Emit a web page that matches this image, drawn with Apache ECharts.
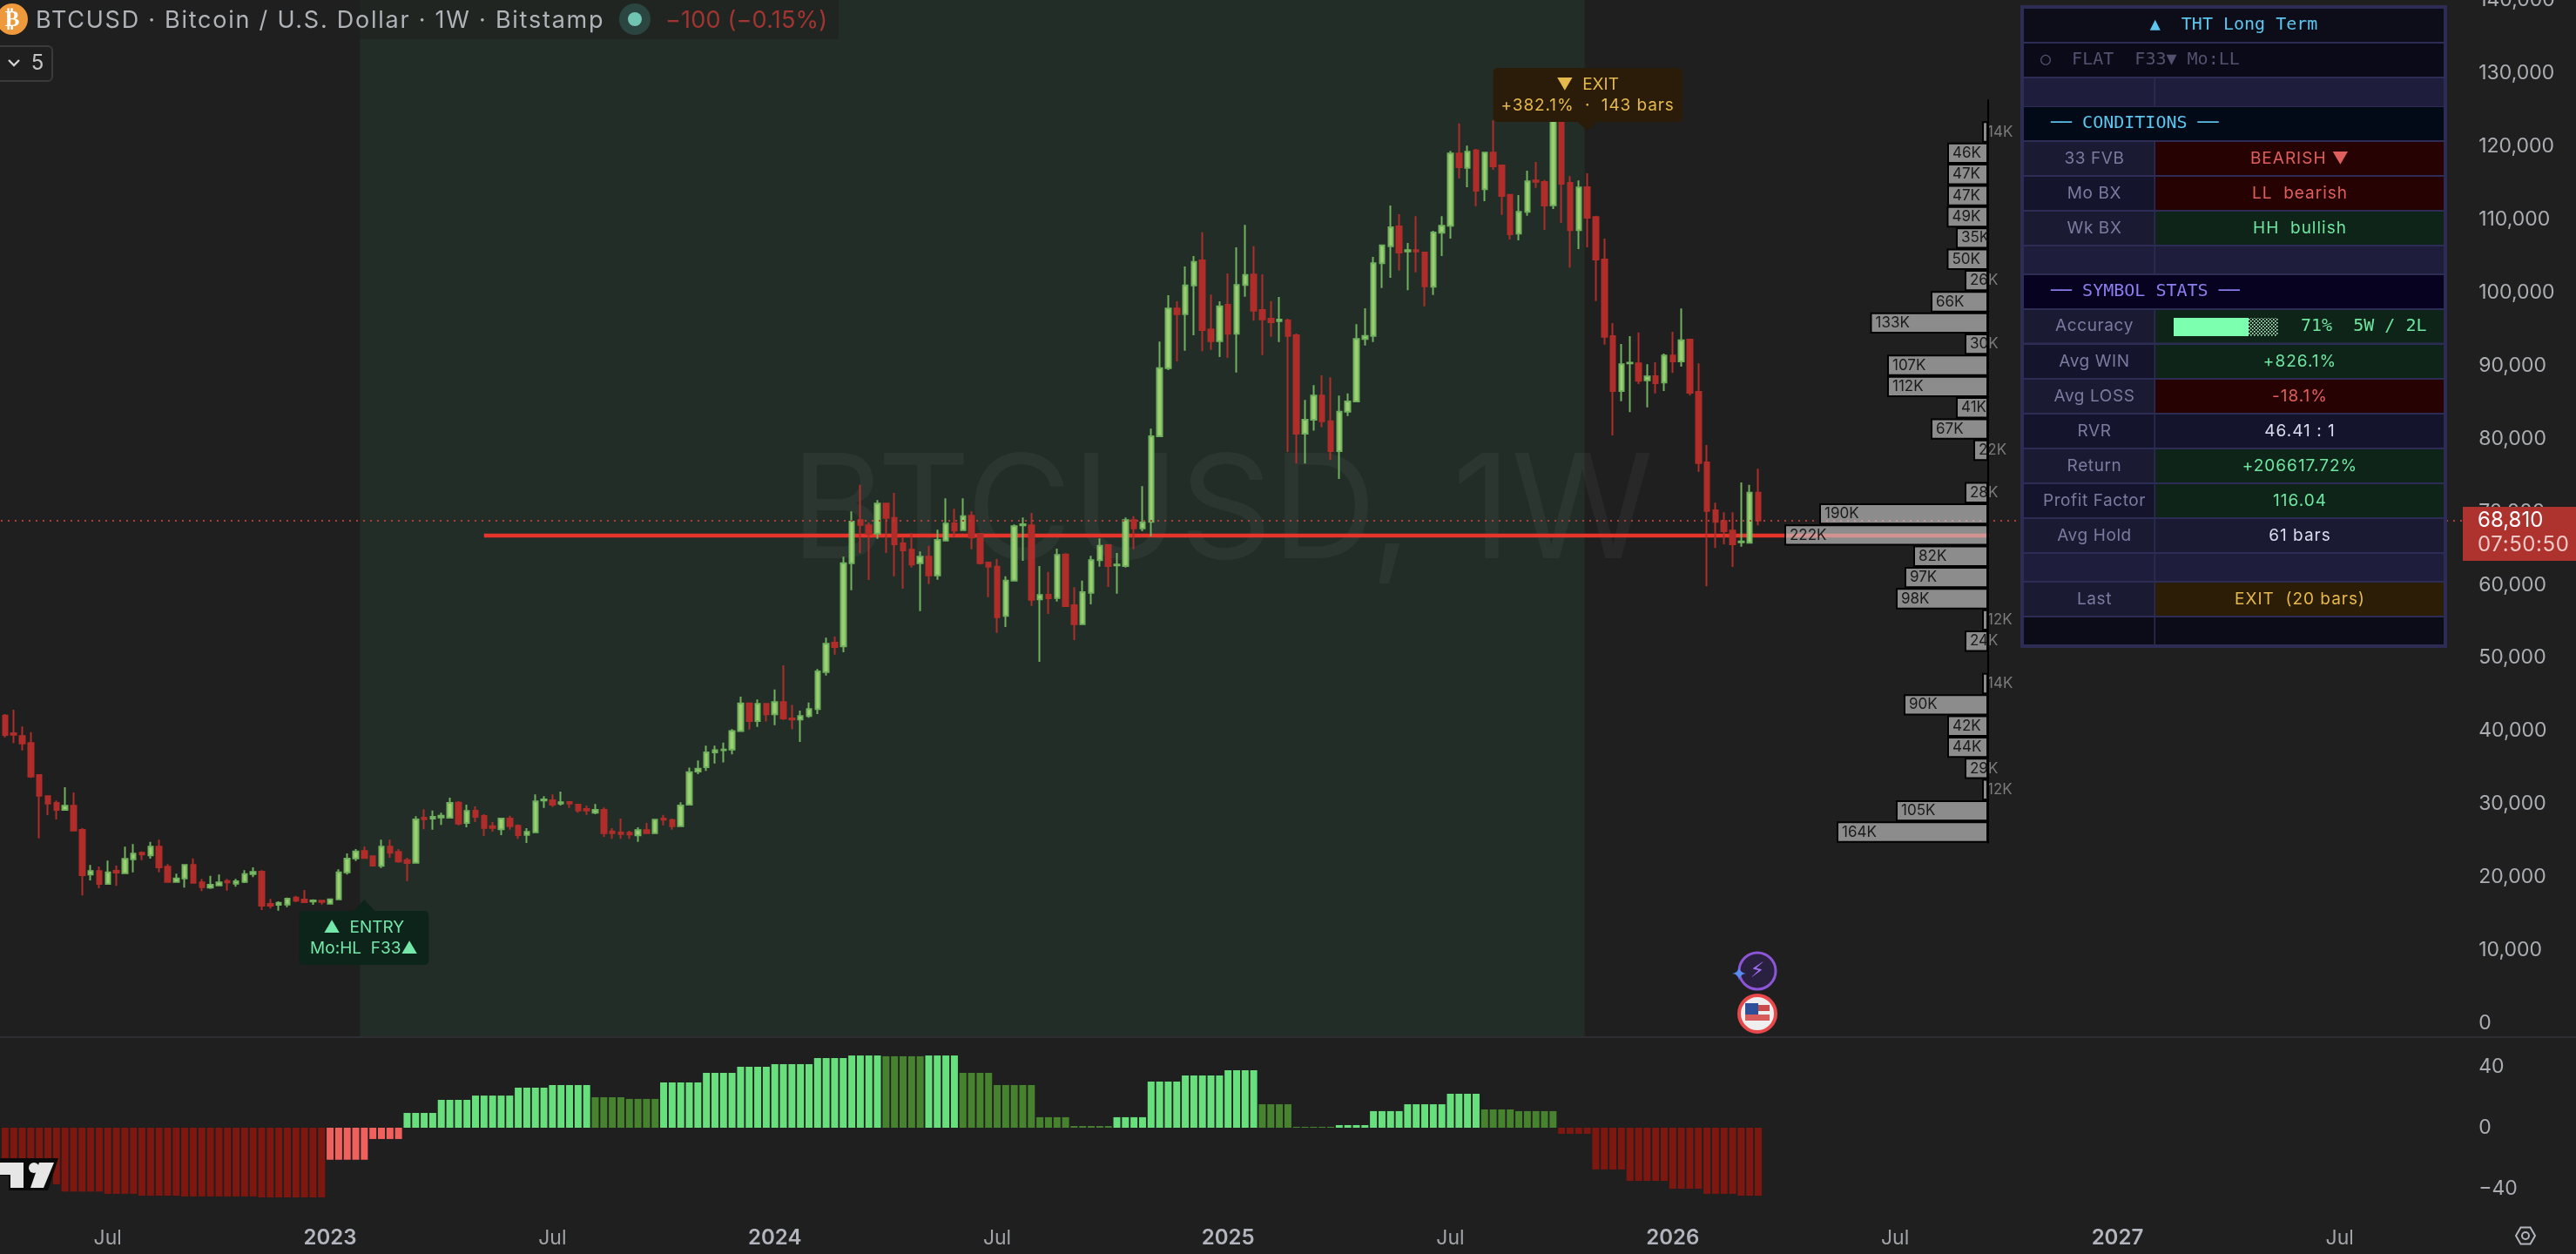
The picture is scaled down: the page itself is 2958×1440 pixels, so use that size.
<!DOCTYPE html>
<html><head><meta charset="utf-8">
<style>html,body{margin:0;padding:0;background:#1f1f1f}#c{width:2958px;height:1440px}</style>
<script src="https://cdn.jsdelivr.net/npm/echarts@6/dist/echarts.min.js"></script>
</head><body><div id="c"></div>
<script>
// letter spacing for canvas text: a font string may carry a marker family "lsN"
(function () {
  const proto = CanvasRenderingContext2D.prototype;
  const d = Object.getOwnPropertyDescriptor(proto, 'font');
  Object.defineProperty(proto, 'font', {
    configurable: true, get() { return d.get.call(this); },
    set(v) { d.set.call(this, v); const m = /"ls([\d.]+)"/.exec(v); this.letterSpacing = m ? m[1] + 'px' : '0px'; }
  });
})();
// ---------- DATA ----------
const weekCount = 288;
const firstWeekUTC = Date.UTC(2022, 3, 11);
const tickIndexes = [12, 38, 64, 90, 116, 143, 169, 195, 221, 247, 273];
const tickLabels = ['Jul', '2023', 'Jul', '2024', 'Jul', '2025', 'Jul', '2026', 'Jul', '2027', 'Jul'];
const priceTicksMax = 140000;
const lastPrice = 68810;
const refLinePrice = 66746;
const refLineFrom = 56, refLineTo = 232;
const tradeFrom = 42, tradeTo = 185;

const open = [42113,39690,39293,38339,33968,31069,30155,29201,29758,26460,20342,20818,19070,20858,20540,22447,23320,22963,24155,21414,
19348,19825,21652,19269,18553,18871,19468,19110,19348,20420,20738,16328,16209,16249,17202,16924,16646,16765,16368,16964,
20659,22567,23560,22845,21533,24155,23440,22328,21970,28129,28009,28168,28129,30195,27413,29082,28367,26976,26539,28009,
27016,25785,26142,30473,30512,30075,30274,29917,29321,28804,29201,26261,26102,26062,25705,26420,26023,28009,27810,26976,
29917,34445,35050,37060,37360,37450,39980,43780,41370,43700,42270,43950,41730,41580,42030,43000,48074,52083,51569,62972,
68852,68137,67024,71117,69170,65674,64800,62972,63846,61303,66071,68415,67500,69448,66945,63051,62495,55741,60588,68137,
68137,58006,58642,58205,64163,57210,54628,58920,63369,65435,62654,62574,68852,67739,68614,80334,89670,97814,97059,100993,
104410,94954,93365,98332,94358,101033,102463,97615,96423,96106,96185,94160,80700,82600,85900,82400,78300,83700,85100,93643,
94080,104012,106357,109058,105641,105800,105482,100794,108184,109138,119031,117084,119468,114144,119149,117401,113389,108065,111045,115335,
115137,111959,123500,115018,108542,114422,110330,104529,94040,86531,90306,90306,88000,88557,87683,91378,90583,93563,86412,76758,
70202,68733,67421,65833,65753,72626];
const high = [42312,42908,40604,39849,34049,31069,30473,32300,31585,26698,21652,21453,22248,21573,24155,24513,23520,24830,25109,21772,
20460,21772,22566,19746,20182,20341,19746,19746,20937,21334,20937,17004,16686,17202,17441,18235,16964,16884,16964,21056,
23242,23838,24155,22845,25109,25109,23838,22646,28327,29281,29122,28804,30870,30393,29917,29678,28606,27532,28128,28407,
27214,26698,31307,31069,31307,31704,30274,29996,29798,29996,29520,26698,28009,26341,26818,27413,27850,28526,28009,30234,
34995,35980,38000,37980,38400,40250,44700,43900,44300,43800,45689,49000,43570,42800,43880,48470,52762,52921,63846,70044,
73699,68534,71594,71117,72587,66548,67064,64561,65356,67540,71832,70401,71832,70044,67103,63051,63568,61184,68256,69209,
69845,62574,61780,64958,64322,59675,60588,63965,66350,65435,64362,69209,69408,73500,81367,93285,99642,98808,103576,105006,
108263,99722,98808,102622,106197,109257,106356,102503,98848,99404,96423,94400,85300,87325,88676,88398,85900,86214,95669,97855,
104886,106595,111919,110727,106793,110449,105482,108462,110449,119388,123162,120103,119666,119149,123559,117481,113508,113349,116686,117878,
115415,125500,126000,115931,115335,116329,110529,107389,95829,92968,94040,94557,90186,90464,91656,94636,97814,93563,90305,79141,
71236,69924,69924,74016,73698,75884];
const low = [39134,38339,37346,33572,25307,28486,27890,29122,26380,17480,19547,18473,18950,18790,20540,20659,22327,22526,20659,19269,
19269,18553,19230,18076,18394,18791,18156,18670,19190,19984,15494,15693,15415,15891,16567,16487,16209,16249,16288,16884,
20341,22208,22606,21500,21255,22646,21970,19468,21851,26539,26500,27135,28009,27095,26818,27532,25625,26221,25745,26500,
25228,24671,26102,29479,29599,29798,29479,28804,28526,28605,25506,25228,25228,25228,24830,26023,25943,27095,26500,26897,
29917,34100,34550,35550,35700,36800,39950,40200,40550,41300,40800,41500,40250,38500,41800,42300,47596,50457,50774,59277,
64362,60667,66309,64362,61184,59475,62375,56416,60111,60707,65952,66548,67421,64879,62773,58324,53437,54231,60588,63290,
57131,49464,56019,57727,57091,52443,54500,57330,62495,59713,58800,62375,64879,67342,66627,80254,89392,90584,92053,94160,
91974,92172,91179,91060,89074,99444,96145,91457,93961,93246,78200,76600,76600,81100,81600,77100,74500,83100,85000,92769,
93246,100635,102026,103019,100317,102781,98132,99682,105006,107389,115614,114422,111839,112515,116805,110647,107270,107151,110528,114343,
108582,111442,109535,103416,105959,106197,98847,92888,80452,85141,83630,87485,84306,86213,86531,88994,89868,85935,75486,59793,
65037,65553,62455,65236,65753,68137];
const close = [39451,39491,38300,33770,31147,30075,29201,29758,26380,20262,20818,19070,20659,20620,22487,23202,23082,24155,21334,19348,
19825,21652,19230,18632,18950,19269,19269,19428,20420,20698,16090,16090,16487,17044,16765,16567,16805,16606,16964,20659,
22527,23520,22606,21573,24155,23320,22130,21930,27890,27930,28248,28407,30155,27334,29042,28248,26738,26738,28009,26976,
25745,26182,30353,30631,29917,30234,30075,29122,29122,29201,26023,26023,25904,25824,26420,26023,27850,27850,26976,29798,
34366,34843,37060,37360,37450,39980,43780,41350,43700,42270,43950,41730,41580,42030,43000,48153,51926,51490,62972,68653,
68216,66945,71117,69170,65554,64720,62773,63846,61303,66150,68375,67421,69408,66468,62972,62495,55582,60588,68018,68296,
57966,58602,58165,64084,57091,54628,59000,63369,65356,62574,62773,68852,67739,68534,80334,89670,97814,97059,100993,104211,
94875,93365,98133,94358,101033,102424,97536,96344,95947,96304,94080,80700,82600,85900,82400,78300,83700,85100,93643,94080,
104012,106476,108939,105482,105800,105641,100873,108224,109138,119031,117163,119269,113945,119149,117282,113230,107985,111045,115216,115176,
111919,123500,114898,108542,114382,110250,104529,93961,86531,90186,90400,87922,88518,87604,91378,90583,93484,86292,76678,70123,
68614,67342,65554,65952,72626,68810];

const histValues = [-31.4,-31.4,-34.3,-34.3,-34.3,-34.3,-37.1,-41.9,-41.9,-41.9,-41.9,-41.9,-43.4,-43.4,-43.4,-43.4,-44.6,-44.6,-44.6,-44.6,
-44.6,-45.1,-45.1,-45.1,-45.1,-45.1,-45.1,-45.1,-45.1,-45.1,-45.7,-45.7,-45.7,-45.7,-45.7,-45.7,-45.7,-45.7,-21,-21,
-21,-21,-21,-7.4,-7.4,-7.4,-7.4,9.7,9.7,9.7,9.7,18.3,18.3,18.3,18.3,21.1,21.1,21.1,21.1,21.1,
26.3,26.3,26.3,26.3,28,28,28,28,28,20,20,20,20,18.9,18.9,18.9,18.9,29.7,29.7,29.7,
29.7,29.7,36,36,36,36,40,40,40,40,41.7,41.7,41.7,41.7,41.7,45.7,45.7,45.7,45.7,47.4,
47.4,47.4,47.4,46.9,46.9,46.9,46.9,46.9,47.4,47.4,47.4,47.4,36,36,36,36,28,28,28,28,
28,6.9,6.9,6.9,6.9,1.1,1.1,1.1,1.1,1.1,6.9,6.9,6.9,6.9,30.3,30.3,30.3,30.3,34.3,34.3,
34.3,34.3,34.3,37.7,37.7,37.7,37.7,15.4,15.4,15.4,15.4,0.6,0.6,0.6,0.6,0.6,1.7,1.7,1.7,1.7,
10.9,10.9,10.9,10.9,15.4,15.4,15.4,15.4,15.4,22.3,22.3,22.3,22.3,12,12,12,12,10.9,10.9,10.9,
10.9,10.9,-4,-4,-4,-4,-27.4,-27.4,-27.4,-27.4,-34.9,-34.9,-34.9,-34.9,-34.9,-40,-40,-40,-40,-43.4,
-43.4,-43.4,-43.4,-44.6,-44.6,-44.6];

const profileK = [0,14,46,47,47,49,35,50,26,66,133,30,107,112,41,67,22,0,28,190,222,82,97,98,12,24,0,14,90,42,44,29,12,105,164];
const profileLen = [0,7,47,47,47,47.5,37,47.5,27,66,135.5,27,116,116,37,66,17,0,27,194,234,86,96,106,7,27,0,7,97,47,47,27,7,106,174];

const panelTitle = '▲  THT Long Term';
const panelStatus = '○  FLAT  F33▼ Mo:LL';
const conditionsHead = '── CONDITIONS ──';
const statsHead = '── SYMBOL STATS ──';
const conditionRows = [['33 FVB','BEARISH ▼','bad'],['Mo BX','LL  bearish','bad'],['Wk BX','HH  bullish','good']];
const statRows = [['Avg WIN','+826.1%','good'],['Avg LOSS','-18.1%','bad'],['RVR','46.41 : 1','plain'],['Return','+206617.72%','good'],['Profit Factor','116.04','good'],['Avg Hold','61 bars','plain']];
const accuracyText = '71%  5W / 2L';
const accuracyLabel = 'Accuracy';
const lastRow = ['Last','EXIT  (20 bars)','warn'];
const headerTitle = 'BTCUSD · Bitcoin / U.S. Dollar · 1W · Bitstamp';
const headerChange = '−100 (−0.15%)';
const countdown = '07:50:50';

// ---------- BUILD ----------
const DAY = 86400000;
const categories = Array.from({length: weekCount}, (_, i) => new Date(firstWeekUTC + i * 7 * DAY).toISOString().slice(0, 10));
const candleData = open.map((o, i) => [o, close[i], low[i], high[i]]);
const C = {bg:'#1f1f1f', up:'#9dd070', upB:'#70b25e', dn:'#b02d2a', dnB:'#b02d2a', axis:'#acaeb4'};
const histColors = {upS:'#67df7d', upW:'#47832f', dnS:'#7d1710', dnW:'#f0605d'};
const histData = (() => {
  let key = 'dnS', prev = histValues[0];
  return histValues.map(v => {
    if (v !== prev) key = v >= 0 ? (v > prev ? 'upS' : 'upW') : (v < prev ? 'dnS' : 'dnW');
    prev = v;
    return {value: v, itemStyle: {color: histColors[key]}};
  });
})();
const sparse = (a, b, v) => categories.map((_, i) => (i === a || i === b) ? v : null);

const paneBottomPrice = -1788;
const F = (size, ls, weight) => `${weight || 400} ${size}px Inter, "ls${ls || 0}", sans-serif`;
const mono = '"DejaVu Sans Mono", monospace';

function txt(text, x, y, fill, font, align, z) {
  return {type:'text', silent:true, z:z||60, style:{text, x, y, fill, font, textAlign:align||'left', textVerticalAlign:'middle'}};
}
function rect(x, y, w, h, fill, z, r, extra) {
  return {type:'rect', silent:true, z:z||50, shape:{x, y, width:w, height:h, r:r||0}, style:Object.assign({fill}, extra||{})};
}
function poly(points, fill, z) { return {type:'polygon', silent:true, z:z||60, shape:{points}, style:{fill}}; }

const els = [];
// watermark
els.push(txt('BTCUSD, 1W', 908, 591, 'rgba(255,255,255,0.045)', F(166), 'left', 1));
// pane separator
els.push(rect(0, 1190, 2958, 2, '#2e2e32', 2));
// header
els.push(rect(0, 0, 963, 45, 'rgba(31,31,31,0.55)', 1));
els.push({type:'circle', silent:true, z:60, shape:{cx:14, cy:22, r:18}, style:{fill:'#ee9a3c'}});
els.push(txt('₿', 14, 23, '#fff', '700 25px "DejaVu Sans"', 'center'));
els.push(txt(headerTitle, 41, 24, '#b0b3b8', F(27, 1.75)));
els.push({type:'circle', silent:true, z:60, shape:{cx:729, cy:22, r:18}, style:{fill:'#2b4640'}});
els.push({type:'circle', silent:true, z:61, shape:{cx:729, cy:22, r:8}, style:{fill:'#70c4b2'}});
els.push(txt(headerChange, 764, 24, '#a33431', F(27, 0.2)));
// collapse pill
els.push({type:'rect', silent:true, z:60, shape:{x:-6, y:53, width:66, height:40, r:5}, style:{fill:'none', stroke:'#3a3a3c', lineWidth:2}});
els.push({type:'polyline', silent:true, z:60, shape:{points:[[10,69],[16,75],[22,69]]}, style:{fill:'none', stroke:'#d0d0d0', lineWidth:2.4}});
els.push(txt('5', 43, 73, '#c4c4c6', F(24), 'center'));
// logo
els.push(poly([[0,1330],[67,1330],[55,1367],[10,1367],[10,1350],[0,1350]], '#0a0a0a', 40));
els.push(poly([[0,1335],[27,1335],[27,1364],[12,1364],[12,1349],[0,1349]], '#e6e6e6', 41));
els.push({type:'circle', silent:true, z:41, shape:{cx:39, cy:1341, r:6}, style:{fill:'#e6e6e6'}});
els.push(poly([[45,1335],[62,1335],[50,1364],[35,1364]], '#e6e6e6', 41));
// events icons
els.push({type:'circle', silent:true, z:60, shape:{cx:2018, cy:1115, r:21}, style:{fill:'#2a2040', stroke:'#8d55d8', lineWidth:3}});
els.push(txt('⚡', 2018, 1116, '#a06ef0', '700 24px "DejaVu Sans"', 'center'));
els.push(txt('✦', 1997, 1120, '#5a8cf0', '700 22px "DejaVu Sans"', 'center', 61));
els.push({type:'circle', silent:true, z:60, shape:{cx:2018, cy:1164, r:21}, style:{fill:'#eee', stroke:'#e8484a', lineWidth:4}});
els.push(rect(2004, 1154, 28, 7, '#c84a4a', 61));
els.push(rect(2004, 1165, 28, 7, '#d85c5c', 61));
els.push(rect(2004, 1152, 15, 13, '#2f4f9a', 62));
// gear
els.push({type:'polygon', silent:true, z:60, shape:{points:[[2911,1419],[2905.5,1428.5],[2894.5,1428.5],[2889,1419],[2894.5,1409.5],[2905.5,1409.5]]}, style:{fill:'none', stroke:'#b2b5be', lineWidth:2}});
els.push({type:'circle', silent:true, z:60, shape:{cx:2900, cy:1419, r:4}, style:{fill:'none', stroke:'#b2b5be', lineWidth:2}});
// price tag
els.push(rect(2828, 582, 130, 62, '#ae322d', 70));
els.push(txt(lastPrice.toLocaleString('en-US'), 2845, 598, '#ffffff', F(24), 'left', 71));
els.push(txt(countdown, 2845, 626, '#ecc9c6', F(24, 0.6), 'left', 71));

// panel
const P = {l:2324, m:2474, r:2806, sep:'#2c2c54'};
const Z = {bad:['#260202','#df5f5c'], good:['#0f2419','#6fe6a0'], plain:['', '#dcdcf0'], warn:['#2b1d06','#e6b94c']};
const labelC = '#7b7ba0', alt = ['#1a1a33', '#14142c'], blankC = '#1e1e3c';
els.push(rect(2320, 6, 490, 738, P.sep, 80));
function fullRow(t, b, fill) { els.push(rect(P.l, t, P.r - P.l, b - t, fill, 81)); }
function blankRow(t, b, fill) {
  els.push(rect(P.l, t, P.m - P.l - 0.5, b - t, fill, 81));
  els.push(rect(P.m + 1, t, P.r - P.m - 1, b - t, fill, 81));
}
function dataRow(t, b, row, altIdx) {
  const leftFill = alt[altIdx % 2];
  const z = Z[row[2]];
  els.push(rect(P.l, t, P.m - P.l - 0.5, b - t, leftFill, 81));
  els.push(rect(P.m + 1, t, P.r - P.m - 1, b - t, z[0] || leftFill, 81));
  const cy = (t + b) / 2;
  els.push(txt(row[0], 2405, cy, labelC, F(19, 0.6), 'center', 82));
  els.push(txt(row[1], 2641, cy, z[1], F(19, 1), 'center', 82));
}
fullRow(10, 48, '#0d0d1a');
els.push(txt(panelTitle, 2565, 29, '#5cc6ee', '400 20px '+mono, 'center', 82));
fullRow(50, 88, '#0a0a18');
els.push(txt(panelStatus, 2343, 69, '#52526f', '400 20px '+mono, 'left', 82));
blankRow(90, 122, blankC);
fullRow(123, 161, '#020a18');
els.push(txt(conditionsHead, 2355, 142, '#5cc6ee', '400 20px '+mono, 'left', 82));
const condT = [163, 203, 243];
conditionRows.forEach((r, i) => dataRow(condT[i], condT[i] + 38, r, i));
blankRow(283, 314, blankC);
fullRow(316, 354, '#07021f');
els.push(txt(statsHead, 2355, 335, '#8b7ff0', '400 20px '+mono, 'left', 82));
// accuracy
dataRow(356, 393.5, [accuracyLabel, '', 'good'], 0);
els.push(rect(2496, 365, 86, 21, '#7dffb0', 83));
const dotCanvas = document.createElement('canvas');
dotCanvas.width = 4; dotCanvas.height = 4;
(function () { const g = dotCanvas.getContext('2d'); g.fillStyle = '#b8f0c8'; g.fillRect(0, 0, 1.6, 1.6); g.fillRect(2, 2, 1.6, 1.6); })();
els.push(rect(2582, 365, 34, 21, {image: dotCanvas, repeat: 'repeat'}, 83));
els.push(txt(accuracyText, 2642, 375, '#6fe6a0', '400 20px '+mono, 'left', 83));
const statT = [396, 436, 476, 516, 556, 596];
statRows.forEach((r, i) => dataRow(statT[i], statT[i] + 38, r, i + 1));
blankRow(636, 667, blankC);
dataRow(669, 707, lastRow, 0);
blankRow(709, 740, '#0c0c18');

// ---------- OPTION ----------
const GRID_W = weekCount * 9.82;
const signals = [
  {index: tradeFrom, price: 16925, dir: 'up', fill: '#0c2419', color: '#74e8a8', lines: ['▲  ENTRY', 'Mo:HL  F33▲'], ls: 0},
  {index: tradeTo, price: 122169, dir: 'down', fill: '#2a1c08', color: '#e6b94c', lines: ['▼  EXIT', '+382.1%  ·  143 bars'], ls: 0.9}
];

const option = {
  backgroundColor: C.bg,
  animation: false,
  tooltip: {show: false},
  grid: [
    {left: 1, top: 0.4, width: GRID_W, height: 1258.5, outerBoundsMode: 'none'},
    {left: 1, top: 1155, width: GRID_W, height: 280, outerBoundsMode: 'none'},
    {left: 1983, top: 115, width: 300, height: 852.7, outerBoundsMode: 'none'}
  ],
  xAxis: [
    {type:'category', gridIndex:0, data:categories, show:false},
    {type:'category', gridIndex:1, data:categories, axisLine:{show:false}, axisTick:{show:false},
      axisLabel:{inside:true, margin:1, hideOverlap:false, interval:(i) => tickIndexes.includes(i),
        formatter:(v, i) => { const k = tickIndexes.indexOf(i); if (k < 0) return ''; const s = tickLabels[k]; return s === 'Jul' ? '{m|'+s+'}' : '{y|'+s+'}'; },
        rich:{m:{color:'#a2a3a8', fontFamily:'Inter', fontSize:23, fontWeight:400}, y:{color:'#b2b5be', fontFamily:'Inter', fontSize:24, fontWeight:600}}}},
    {type:'value', gridIndex:2, inverse:true, min:0, max:300, show:false}
  ],
  yAxis: [
    {type:'value', gridIndex:0, position:'right', min:-10000, max:priceTicksMax, interval:10000, splitLine:{show:false}, axisLine:{show:false}, axisTick:{show:false},
      axisLabel:{margin:17, color:C.axis, fontFamily:'Inter', fontSize:23, formatter:v => v < 0 ? '' : v.toLocaleString('en-US')}},
    {type:'value', gridIndex:1, position:'right', min:-80, max:80, interval:40, splitLine:{show:false}, axisLine:{show:false}, axisTick:{show:false},
      axisLabel:{margin:17, color:C.axis, fontFamily:'Inter', fontSize:23, formatter:v => Math.abs(v) > 40 ? '' : (v < 0 ? '−' + (-v) : '' + v)}},
    {type:'category', gridIndex:2, inverse:true, data:profileK.map((_, i) => 'r' + i), axisTick:{show:false}, axisLabel:{show:false}, axisLine:{show:true, lineStyle:{color:'#000', width:2}}, z:20}
  ],
  graphic: {elements: els},
  series: [
    {type:'custom', xAxisIndex:0, yAxisIndex:0, z:0, silent:true, clip:false, encode:{x:0, y:-1},
      data:[[tradeFrom, tradeTo]],
      renderItem:(params, api) => {
        const band = api.size([1, 0])[0];
        const x0 = api.coord([api.value(0), 0])[0] - band / 2;
        const x1 = api.coord([api.value(1), 0])[0] - band / 2 + 2;
        const yb = api.coord([api.value(0), paneBottomPrice])[1];
        return {type:'rect', shape:{x:x0, y:0, width:x1 - x0, height:yb}, style:{fill:'#232d27'}};
      }},
    {type:'line', xAxisIndex:0, yAxisIndex:0, z:2, silent:true, showSymbol:false, symbol:'none', connectNulls:true,
      lineStyle:{color:'#e8352c', width:4.4}, data:sparse(refLineFrom, refLineTo, refLinePrice)},
    {type:'line', xAxisIndex:0, yAxisIndex:0, z:3, silent:true, showSymbol:false, symbol:'none', data:[],
      markLine:{silent:true, symbol:'none', label:{show:false}, animation:false,
        lineStyle:{color:'#b53a3a', width:2, type:[2,6]}, data:[{yAxis:lastPrice}]}},
    {type:'candlestick', xAxisIndex:0, yAxisIndex:0, z:4, silent:true, barWidth:6, data:candleData,
      itemStyle:{color:C.up, color0:C.dn, borderColor:C.upB, borderColor0:C.dnB, borderWidth:2}},
    {type:'bar', xAxisIndex:1, yAxisIndex:1, z:4, silent:true, barWidth:8, data:histData},
    {type:'bar', xAxisIndex:2, yAxisIndex:2, z:6, silent:true, barCategoryGap:'0%',
      data:profileLen, itemStyle:{color:'rgba(200,200,200,0.65)', borderColor:'#000', borderWidth:2},
      label:{show:true, position:'insideLeft', distance:6, color:'#1a1a1a', fontFamily:'Inter', fontSize:17, formatter:p => profileK[p.dataIndex] ? profileK[p.dataIndex] + 'K' : ''}},
    {type:'custom', xAxisIndex:2, yAxisIndex:2, z:7, silent:true, clip:false, encode:{x:0, y:1},
      data:profileLen.map((v, i) => [v, i]),
      renderItem:(params, api) => {
        const k = profileK[params.dataIndex];
        if (!k || api.value(0) > 50) return null;
        const p = api.coord([api.value(0), api.value(1)]);
        const edge = api.coord([0, api.value(1)])[0] + 1;
        return {type:'text', style:{text:k + 'K', x:p[0] + 6, y:p[1], fill:'#7c7c7c', font:F(17), textAlign:'left', textVerticalAlign:'middle'},
          clipPath:{type:'rect', shape:{x:edge, y:p[1] - 14, width:60, height:28}}};
      }},
    {type:'custom', xAxisIndex:0, yAxisIndex:0, z:30, silent:true, clip:false, encode:{x:0, y:1},
      data:signals.map(s => [s.index, s.price]),
      renderItem:(params, api) => {
        const s = signals[params.dataIndex];
        const p = api.coord([api.value(0), api.value(1)]);
        const up = s.dir === 'up';
        const W = up ? [-75, 74] : [-108, 109], top = up ? 13 : -72, h = 62;
        const base = up ? top : top + h;
        const tw = up ? 12 : 11;
        return {type:'group', children:[
          {type:'rect', shape:{x:p[0] + W[0], y:p[1] + top, width:W[1] - W[0], height:h, r:5}, style:{fill:s.fill}},
          {type:'polygon', shape:{points:[[p[0], p[1]], [p[0] - tw, p[1] + base], [p[0] + tw, p[1] + base]]}, style:{fill:s.fill}},
          {type:'text', style:{text:s.lines[0], x:p[0] + (W[0] + W[1]) / 2, y:p[1] + top + 19, fill:s.color, font:F(19), textAlign:'center', textVerticalAlign:'middle'}},
          {type:'text', style:{text:s.lines[1], x:p[0] + (W[0] + W[1]) / 2, y:p[1] + top + 43, fill:s.color, font:F(19, s.ls), textAlign:'center', textVerticalAlign:'middle'}}
        ]};
      }}
  ]
};
const chart = echarts.init(document.getElementById('c'), null, {renderer:'canvas', width:2958, height:1440});
chart.setOption(option);
</script></body></html>
